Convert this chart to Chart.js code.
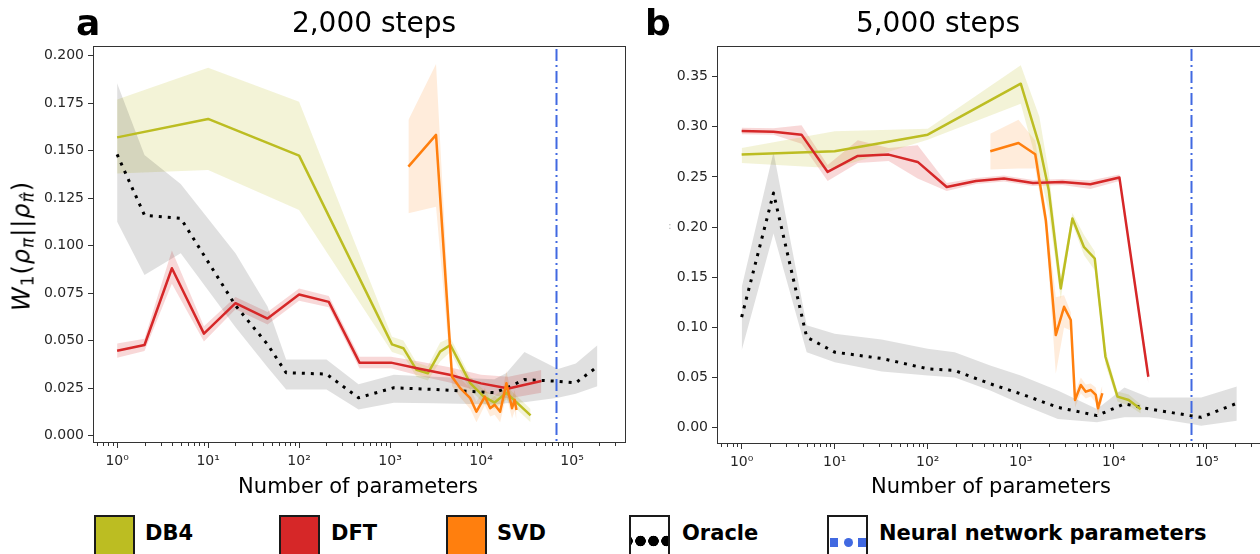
<!DOCTYPE html>
<html>
<head>
<meta charset="utf-8">
<script src="https://cdn.jsdelivr.net/npm/chart.js@4.4.1/dist/chart.umd.min.js"></script>
<style>
html, body { margin:0; padding:0; background:#fff; }
body { width:1260px; height:554px; overflow:hidden; position:relative; font-family:"DejaVu Sans", sans-serif; color:#000; }
canvas { position:absolute; top:0; }
.txt { position:absolute; white-space:nowrap; line-height:1; }
.title { font-size:28px; transform:translateX(-50%); top:9px; }
.panel { font-size:36px; font-weight:bold; top:5px; }
.xlab { font-size:21px; transform:translateX(-50%); top:476px; }
.ylab { font-size:24px; letter-spacing:1px; transform:translate(-50%,-50%) rotate(-90deg); }
.ylab sub { font-size:70%; vertical-align:-0.25em; }
.patch { position:absolute; top:515px; width:41px; height:60px; box-sizing:border-box; border:2.5px solid #1a1a1a; }
.leg { position:absolute; top:523px; font-size:21px; font-weight:bold; line-height:1; white-space:nowrap; }
</style>
</head>
<body>
<canvas id="chartA" width="640" height="500" style="left:0"></canvas>
<canvas id="chartB" width="622" height="500" style="left:640px"></canvas>

<div class="txt panel" style="left:76px">a</div>
<div class="txt panel" style="left:645px">b</div>
<div class="txt title" style="left:374px">2,000 steps</div>
<div class="txt title" style="left:938px">5,000 steps</div>
<div class="txt xlab" style="left:358px">Number of parameters</div>
<div class="txt xlab" style="left:991px">Number of parameters</div>
<div class="txt ylab" style="left:23px; top:246px"><i>W</i><sub>1</sub>(<i>ρ</i><sub><i>π</i></sub>||<i>ρ</i><sub><i>π̂</i></sub>)</div>
<div class="txt" style="left:668px; top:220px; font-size:11px; color:#bbb">:</div>

<div class="patch" style="left:94px; background:#bcbd22"></div>
<div class="leg" style="left:145px">DB4</div>
<div class="patch" style="left:279px; background:#d62728"></div>
<div class="leg" style="left:331px">DFT</div>
<div class="patch" style="left:446px; background:#ff7f0e"></div>
<div class="leg" style="left:497px">SVD</div>
<div class="patch" style="left:629px; background:#fff radial-gradient(circle, #000 0 5px, transparent 5.6px) 3px 18px / 13px 12px repeat-x"></div>
<div class="leg" style="left:682px">Oracle</div>
<div class="patch" style="left:827px; background:#fff">
  <div style="position:absolute; left:1px; top:21px; width:8px; height:9px; background:#4169e1"></div>
  <div style="position:absolute; left:15px; top:21px; width:9px; height:9px; border-radius:50%; background:#4169e1"></div>
  <div style="position:absolute; left:29px; top:21px; width:8px; height:9px; background:#4169e1"></div>
</div>
<div class="leg" style="left:879px">Neural network parameters</div>

<script>
// ---- data ----
const X_TICKS = [1, 10, 100, 1000, 10000, 100000];
const X_TICK_LABELS = ['10⁰', '10¹', '10²', '10³', '10⁴', '10⁵'];
const Y_TICKS_A = [0, 0.025, 0.05, 0.075, 0.1, 0.125, 0.15, 0.175, 0.2];
const Y_TICKS_B = [0, 0.05, 0.1, 0.15, 0.2, 0.25, 0.3, 0.35];
const NN_PARAMS = 67000;

// panel a: 2,000 steps
const db4A_x  = [1, 10, 100, 1050, 1400, 1950, 2600, 3550, 4600, 7600, 10700, 14100, 19000, 35000];
const db4A_y  = [0.157, 0.1667, 0.1474, 0.048, 0.046, 0.0346, 0.0328, 0.0442, 0.0477, 0.0276, 0.0205, 0.0174, 0.0225, 0.0106];
const db4A_hi = [0.177, 0.1937, 0.1758, 0.052, 0.050, 0.0385, 0.0365, 0.049, 0.0515, 0.031, 0.024, 0.021, 0.026, 0.014];
const db4A_lo = [0.138, 0.1398, 0.1188, 0.044, 0.042, 0.031, 0.029, 0.039, 0.044, 0.024, 0.017, 0.014, 0.019, 0.007];

const dftA_x  = [1, 2, 4, 9, 20, 45, 100, 212, 461, 1024, 2100, 4500, 10000, 20000, 46000];
const dftA_y  = [0.0447, 0.0477, 0.0881, 0.0537, 0.0697, 0.0616, 0.0743, 0.0704, 0.0384, 0.0384, 0.0352, 0.032, 0.0275, 0.0248, 0.0287];
const dftA_hi = [0.0485, 0.0510, 0.0975, 0.0575, 0.0730, 0.0650, 0.0775, 0.0735, 0.0415, 0.0415, 0.0390, 0.0360, 0.0320, 0.0310, 0.0345];
const dftA_lo = [0.0410, 0.0445, 0.0800, 0.0495, 0.0665, 0.0585, 0.0710, 0.0675, 0.0355, 0.0355, 0.0315, 0.0280, 0.0230, 0.0195, 0.0225];

const svdA_x  = [1590, 3200, 4800, 5900, 7600, 8900, 11000, 12600, 14100, 16200, 19000, 21900, 23400, 24500];
const svdA_y  = [0.1416, 0.1583, 0.031, 0.025, 0.0197, 0.0126, 0.0205, 0.0144, 0.0162, 0.0126, 0.0276, 0.0144, 0.0188, 0.0135];
const svdA_hi = [0.1662, 0.1956, 0.036, 0.030, 0.025, 0.018, 0.025, 0.019, 0.021, 0.018, 0.034, 0.020, 0.024, 0.019];
const svdA_lo = [0.117, 0.1205, 0.026, 0.020, 0.014, 0.007, 0.016, 0.010, 0.011, 0.007, 0.021, 0.009, 0.013, 0.008];

const oraA_x  = [1, 2, 5, 20, 45, 72, 200, 450, 1100, 3000, 14000, 19000, 30000, 70000, 110000, 190000];
const oraA_y  = [0.148, 0.116, 0.1144, 0.0685, 0.048, 0.0331, 0.0324, 0.0199, 0.0252, 0.0243, 0.0226, 0.0250, 0.0295, 0.0286, 0.0278, 0.0363];
const oraA_hi = [0.1855, 0.1477, 0.1325, 0.096, 0.068, 0.040, 0.040, 0.027, 0.032, 0.031, 0.0296, 0.033, 0.044, 0.035, 0.038, 0.0475];
const oraA_lo = [0.1126, 0.0846, 0.096, 0.057, 0.036, 0.0243, 0.0243, 0.0137, 0.0173, 0.017, 0.0164, 0.017, 0.0175, 0.0199, 0.022, 0.026];

// panel b: 5,000 steps
const db4B_x  = [1, 10, 100, 1000, 1585, 2000, 2690, 3590, 4790, 6240, 8130, 10960, 14450, 19500];
const db4B_y  = [0.2723, 0.2756, 0.2922, 0.343, 0.2816, 0.2367, 0.1388, 0.2086, 0.180, 0.1687, 0.0707, 0.0309, 0.0276, 0.0183];
const db4B_hi = [0.279, 0.2955, 0.298, 0.3613, 0.31, 0.255, 0.150, 0.214, 0.192, 0.176, 0.078, 0.036, 0.033, 0.023];
const db4B_lo = [0.264, 0.2587, 0.287, 0.323, 0.255, 0.215, 0.128, 0.203, 0.172, 0.157, 0.063, 0.026, 0.022, 0.014];

const dftB_x  = [1, 2.2, 4.4, 8.4, 17.7, 38, 78, 160, 330, 660, 1350, 2800, 5600, 11500, 23500];
const dftB_y  = [0.2958, 0.2952, 0.2922, 0.255, 0.271, 0.2723, 0.265, 0.240, 0.246, 0.2484, 0.244, 0.245, 0.2427, 0.2494, 0.0508];
const dftB_hi = [0.299, 0.2985, 0.3015, 0.262, 0.2866, 0.279, 0.2816, 0.244, 0.249, 0.2515, 0.247, 0.248, 0.2465, 0.2525, 0.057];
const dftB_lo = [0.2925, 0.292, 0.283, 0.246, 0.264, 0.266, 0.2484, 0.236, 0.243, 0.2455, 0.241, 0.242, 0.238, 0.246, 0.044];

const svdB_x  = [470, 945, 1430, 1860, 2380, 2920, 3450, 3830, 4420, 5000, 5650, 6400, 6760, 7530];
const svdB_y  = [0.2756, 0.2838, 0.2726, 0.2069, 0.0923, 0.1205, 0.1073, 0.0276, 0.0425, 0.0359, 0.0376, 0.0326, 0.0193, 0.0343];
const svdB_hi = [0.2932, 0.307, 0.2864, 0.217, 0.130, 0.132, 0.115, 0.035, 0.050, 0.043, 0.044, 0.040, 0.028, 0.042];
const svdB_lo = [0.2574, 0.2584, 0.2584, 0.197, 0.054, 0.100, 0.097, 0.020, 0.034, 0.029, 0.031, 0.025, 0.012, 0.027];

const oraB_x  = [1, 2.2, 5, 10, 32, 100, 195, 470, 1000, 2500, 6600, 13000, 24000, 66000, 87000, 210000];
const oraB_y  = [0.1103, 0.234, 0.0903, 0.0753, 0.069, 0.0587, 0.057, 0.0437, 0.0337, 0.0203, 0.012, 0.0237, 0.0187, 0.012, 0.0103, 0.0243];
const oraB_hi = [0.14, 0.275, 0.102, 0.0937, 0.088, 0.0787, 0.0753, 0.062, 0.052, 0.037, 0.0187, 0.040, 0.030, 0.030, 0.030, 0.041];
const oraB_lo = [0.077, 0.1937, 0.0753, 0.0653, 0.056, 0.052, 0.050, 0.037, 0.0237, 0.0087, 0.0053, 0.0103, 0.0103, 0.004, 0.002, 0.007];

// ---- helpers ----
const pts = (xs, ys) => xs.map((x, i) => ({x: x, y: ys[i]}));

const band = (xs, lo, hi, color) => [
    {data: pts(xs, lo), borderWidth: 0, pointRadius: 0, fill: false, order: 10},
    {data: pts(xs, hi), borderWidth: 0, pointRadius: 0, fill: '-1', backgroundColor: color, order: 10}
];

const line = (xs, ys, color, order, width, dash) => ({
    data: pts(xs, ys),
    borderColor: color,
    borderWidth: width,
    borderDash: dash || [],
    borderCapStyle: 'butt',
    borderJoinStyle: 'round',
    pointRadius: 0,
    fill: false,
    tension: 0,
    order: order
});

// frame, minor log ticks and the dash-dot reference line
const extras = {
    id: 'extras',
    afterDraw(chart, args, opts) {
        const ctx = chart.ctx, a = chart.chartArea, x = chart.scales.x;
        ctx.save();
        // neural network parameter count
        const nx = Math.round(x.getPixelForValue(opts.nn)) + 0.5;
        ctx.strokeStyle = '#4169e1';
        ctx.lineWidth = 2;
        ctx.setLineDash([12, 4, 2, 4]);
        ctx.beginPath();
        ctx.moveTo(nx, a.top + 3);
        ctx.lineTo(nx, a.bottom);
        ctx.stroke();
        ctx.setLineDash([]);
        // minor ticks
        ctx.strokeStyle = '#333';
        ctx.lineWidth = 1;
        ctx.beginPath();
        for (let k = -1; k <= 6; k++) {
            for (let m = 2; m <= 9; m++) {
                const v = m * Math.pow(10, k);
                if (v < x.min || v > x.max) continue;
                const px = Math.round(x.getPixelForValue(v)) + 0.5;
                ctx.moveTo(px, a.bottom);
                ctx.lineTo(px, a.bottom + 3);
            }
        }
        ctx.stroke();
        // axes box
        ctx.strokeRect(Math.round(a.left) + 0.5, Math.round(a.top) + 0.5,
            Math.round(a.right - a.left) - 1, Math.round(a.bottom - a.top) - 1);
        ctx.restore();
    }
};

const tickFont = {family: 'DejaVu Sans', size: 14};

const makeChart = (id, datasets, yMin, yMax, yTicks, yDec, yWidth, xHeight, padRight) => {
    var ctx = document.getElementById(id).getContext('2d');
    return new Chart(ctx, {
        type: 'line',
        data: {datasets: datasets},
        options: {
            responsive: false,
            animation: false,
            events: [],
            devicePixelRatio: 1,
            layout: {padding: {top: 46, right: padRight, left: 0, bottom: 0}},
            plugins: {
                legend: {display: false},
                tooltip: {enabled: false},
                extras: {nn: NN_PARAMS}
            },
            scales: {
                x: {
                    type: 'logarithmic',
                    min: Math.pow(10, -0.265),
                    max: Math.pow(10, 5.593),
                    afterBuildTicks: s => { s.ticks = X_TICKS.map(v => ({value: v})); },
                    afterFit: s => { s.height = xHeight; },
                    ticks: {
                        callback: (v, i) => X_TICK_LABELS[i],
                        font: tickFont, color: '#262626', padding: 5,
                        maxRotation: 0, autoSkip: false
                    },
                    grid: {drawOnChartArea: false, tickLength: 5, tickColor: '#333', tickWidth: 1},
                    border: {display: false}
                },
                y: {
                    min: yMin,
                    max: yMax,
                    afterBuildTicks: s => { s.ticks = yTicks.map(v => ({value: v})); },
                    afterFit: s => { s.width = yWidth; },
                    ticks: {
                        callback: v => v.toFixed(yDec),
                        font: tickFont, color: '#262626', padding: 4
                    },
                    grid: {drawOnChartArea: false, tickLength: 5, tickColor: '#333', tickWidth: 1},
                    border: {display: false}
                }
            }
        },
        plugins: [extras]
    });
};

const DB4 = '#bcbd22', DFT = '#d62728', SVD = '#ff7f0e';
const dotted = [3, 6];

makeChart('chartA', [
    ...band(oraA_x, oraA_lo, oraA_hi, 'rgba(0,0,0,0.12)'),
    ...band(db4A_x, db4A_lo, db4A_hi, 'rgba(188,189,34,0.18)'),
    ...band(dftA_x, dftA_lo, dftA_hi, 'rgba(214,39,40,0.18)'),
    ...band(svdA_x, svdA_lo, svdA_hi, 'rgba(255,127,14,0.15)'),
    line(oraA_x, oraA_y, '#000', 4, 3, dotted),
    line(db4A_x, db4A_y, DB4, 3, 2.5),
    line(dftA_x, dftA_y, DFT, 2, 2.5),
    line(svdA_x, svdA_y, SVD, 1, 2.5)
], -0.0039, 0.2051, Y_TICKS_A, 3, 93, 57, 14);

makeChart('chartB', [
    ...band(oraB_x, oraB_lo, oraB_hi, 'rgba(0,0,0,0.12)'),
    ...band(db4B_x, db4B_lo, db4B_hi, 'rgba(188,189,34,0.18)'),
    ...band(dftB_x, dftB_lo, dftB_hi, 'rgba(214,39,40,0.18)'),
    ...band(svdB_x, svdB_lo, svdB_hi, 'rgba(255,127,14,0.15)'),
    line(oraB_x, oraB_y, '#000', 4, 3, dotted),
    line(db4B_x, db4B_y, DB4, 3, 2.5),
    line(dftB_x, dftB_y, DFT, 2, 2.5),
    line(svdB_x, svdB_y, SVD, 1, 2.5)
], -0.0163, 0.3806, Y_TICKS_B, 2, 77, 56, 0);
</script>
</body>
</html>
